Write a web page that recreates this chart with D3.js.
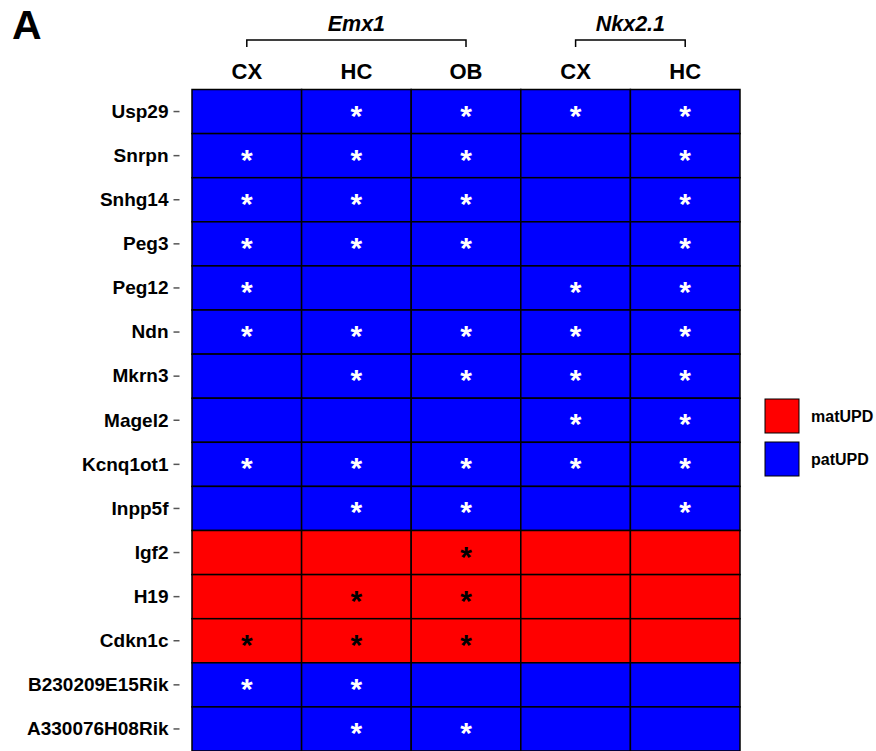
<!DOCTYPE html>
<html><head><meta charset="utf-8">
<script src="https://cdn.jsdelivr.net/npm/d3@7"></script>
<style>body{margin:0;background:#fff;}svg{display:block;font-family:"Liberation Sans",Arial,sans-serif;}</style>
</head><body>
<script>
const genes = ["Usp29","Snrpn","Snhg14","Peg3","Peg12","Ndn","Mkrn3","Magel2","Kcnq1ot1","Inpp5f","Igf2","H19","Cdkn1c","B230209E15Rik","A330076H08Rik"];
const regions = ["CX","HC","OB","CX2","HC2"];
const regionLabels = ["CX","HC","OB","CX","HC"];
const updType = ["patUPD","patUPD","patUPD","patUPD","patUPD","patUPD","patUPD","patUPD","patUPD","patUPD","matUPD","matUPD","matUPD","patUPD","patUPD"];
const significant = [
  [0,1,1,1,1],
  [1,1,1,0,1],
  [1,1,1,0,1],
  [1,1,1,0,1],
  [1,0,0,1,1],
  [1,1,1,1,1],
  [0,1,1,1,1],
  [0,0,0,1,1],
  [1,1,1,1,1],
  [0,1,1,0,1],
  [0,0,1,0,0],
  [0,1,1,0,0],
  [1,1,1,0,0],
  [1,1,0,0,0],
  [0,1,1,0,0]
];
const groups = [{name:"Emx1", from:"CX", to:"OB"},{name:"Nkx2.1", from:"CX2", to:"HC2"}];
const legendItems = ["matUPD","patUPD"];
const colors = {matUPD:"#ff0000", patUPD:"#0000ff"};

const W=876,H=751;
const svg=d3.select("body").append("svg").attr("width",W).attr("height",H);
const x=d3.scaleBand().domain(regions).range([192,740]);
const y=d3.scaleBand().domain(genes).range([89.5,751]);

const cells=[];
genes.forEach((g,i)=>regions.forEach((r,j)=>cells.push({g,r,t:updType[i],s:significant[i][j]})));

svg.append("g").selectAll("rect").data(cells).join("rect")
  .attr("x",d=>x(d.r)).attr("y",d=>y(d.g))
  .attr("width",x.bandwidth()).attr("height",y.bandwidth())
  .attr("fill",d=>colors[d.t]).attr("stroke","#000").attr("stroke-width",1.5);

svg.append("g").selectAll("text").data(cells.filter(d=>d.s)).join("text")
  .attr("x",d=>x(d.r)+x.bandwidth()/2).attr("y",d=>y(d.g)+y.bandwidth()/2+14)
  .attr("text-anchor","middle").attr("font-size",30).attr("font-weight","bold")
  .attr("fill",d=>d.t==="matUPD"?"#000":"#fff").text("*");

// y axis
const ya=svg.append("g").attr("transform","translate(179.5,0)")
  .call(d3.axisLeft(y).tickSize(6).tickPadding(5));
ya.select(".domain").remove();
ya.selectAll(".tick line").attr("stroke","#555").attr("stroke-width",1.5);
ya.selectAll("text").attr("font-size",19).attr("font-weight","bold").attr("fill","#000")
  .attr("dy","0.33em").attr("font-family","Liberation Sans, Arial, sans-serif");

// x labels
svg.append("g").selectAll("text").data(regions).join("text")
  .attr("x",d=>x(d)+x.bandwidth()/2).attr("y",78.5)
  .attr("text-anchor","middle").attr("font-size",22).attr("font-weight","bold").text((d,i)=>regionLabels[i]);

// brackets
groups.forEach(g=>{
  const x1=x(g.from)+x.bandwidth()/2, x2=x(g.to)+x.bandwidth()/2;
  svg.append("path").attr("d",`M${x1},47V40H${x2}V47`).attr("fill","none").attr("stroke","#000").attr("stroke-width",1.5);
  svg.append("text").attr("x",(x1+x2)/2).attr("y",31).attr("text-anchor","middle")
    .attr("font-size",21.5).attr("font-weight","bold").attr("font-style","italic").text(g.name);
});

// panel label
svg.append("text").attr("x",12).attr("y",39).attr("font-size",41).attr("font-weight","bold").text("A");

// legend
const lg=svg.append("g").selectAll("g").data(legendItems).join("g")
  .attr("transform",(d,i)=>`translate(765,${399+i*43})`);
lg.append("rect").attr("width",34).attr("height",34).attr("fill",d=>colors[d]).attr("stroke","#000").attr("stroke-width",1);
lg.append("text").attr("x",46).attr("y",23).attr("font-size",16).attr("font-weight","bold").text(d=>d);
</script>
</body></html>
